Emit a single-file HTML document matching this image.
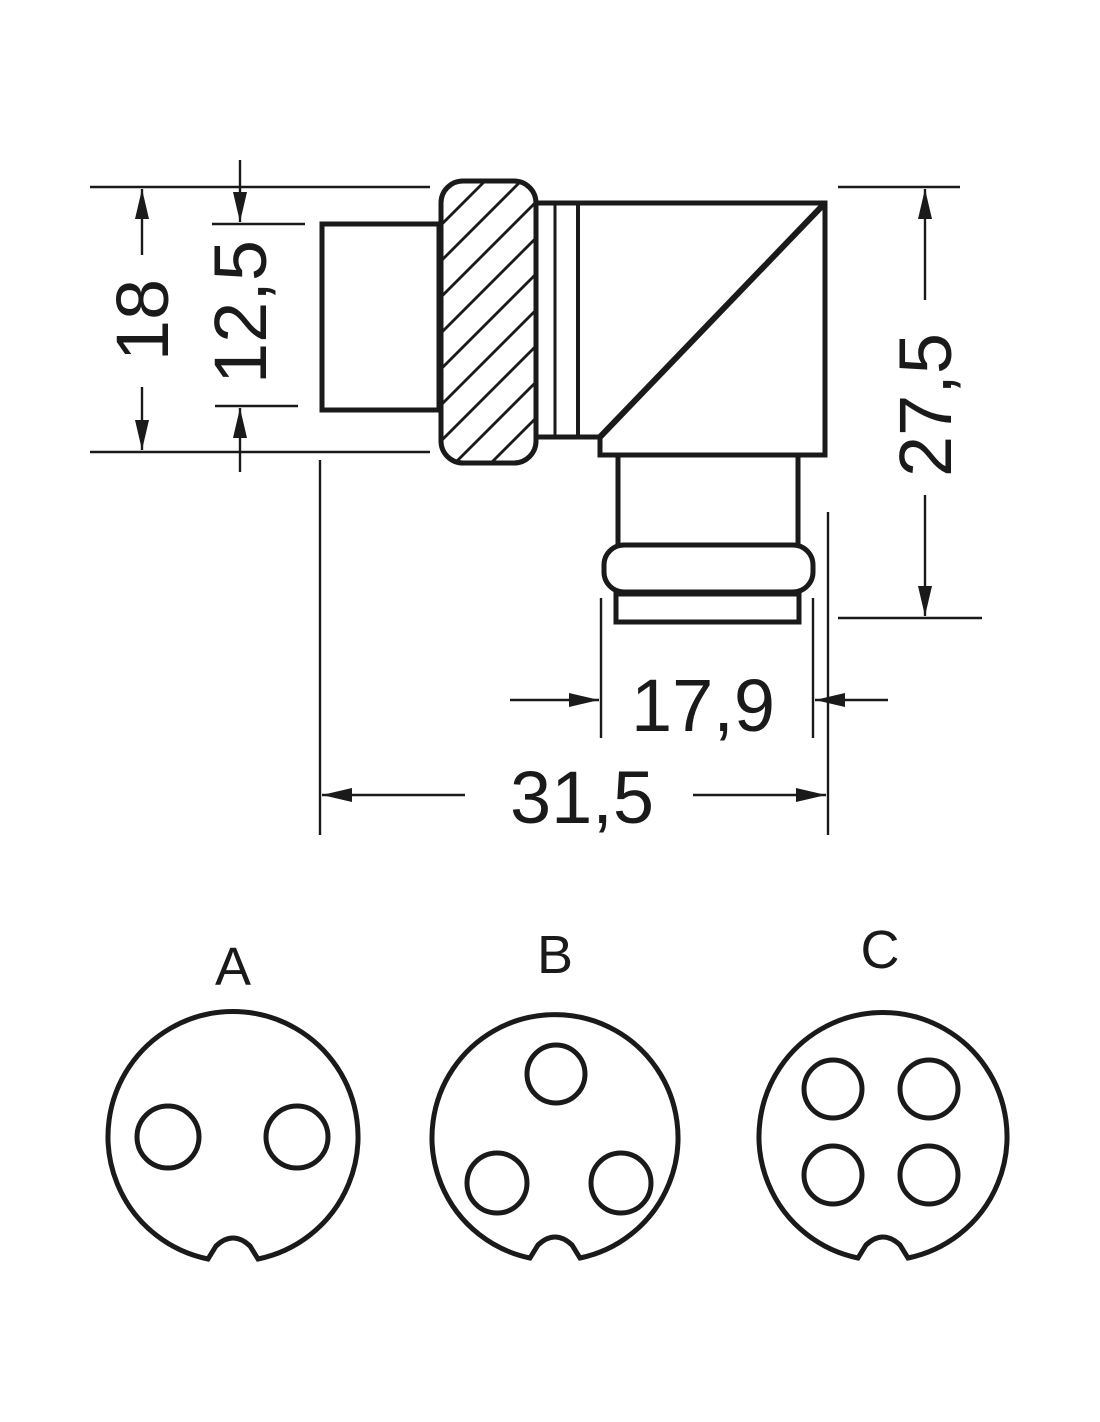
<!DOCTYPE html>
<html><head><meta charset="utf-8"><style>html,body{margin:0;padding:0;background:#fff}svg{display:block}</style></head>
<body>
<svg width="1100" height="1422" viewBox="0 0 1100 1422" xmlns="http://www.w3.org/2000/svg">
<defs>
<clipPath id="nut"><rect x="441" y="181" width="95" height="282" rx="22"/></clipPath>
<marker id="ar" viewBox="0 0 30 14" refX="30" refY="7" markerWidth="30" markerHeight="14" markerUnits="userSpaceOnUse" orient="auto"><path d="M0,0 L30,7 L0,14 Z" fill="#1a1a1a"/></marker>
</defs>
<g stroke="#1a1a1a" fill="none" stroke-width="2.4">
<line x1="90" y1="187" x2="430" y2="187"/>
<line x1="90" y1="452" x2="430" y2="452"/>
<line x1="212" y1="224" x2="305" y2="224"/>
<line x1="215" y1="406" x2="298" y2="406"/>
<line x1="838" y1="187" x2="960" y2="187"/>
<line x1="838" y1="618" x2="982" y2="618"/>
<line x1="320" y1="460" x2="320" y2="835"/>
<line x1="828" y1="512" x2="828" y2="835"/>
<line x1="601" y1="598" x2="601" y2="738"/>
<line x1="813" y1="598" x2="813" y2="738"/>
<line x1="142" y1="255" x2="142" y2="189" marker-end="url(#ar)"/>
<line x1="142" y1="387" x2="142" y2="450" marker-end="url(#ar)"/>
<line x1="240" y1="160" x2="240" y2="222" marker-end="url(#ar)"/>
<line x1="240" y1="472" x2="240" y2="408" marker-end="url(#ar)"/>
<line x1="925" y1="300" x2="925" y2="189" marker-end="url(#ar)"/>
<line x1="925" y1="495" x2="925" y2="616" marker-end="url(#ar)"/>
<line x1="510" y1="700" x2="599" y2="700" marker-end="url(#ar)"/>
<line x1="888" y1="700" x2="815" y2="700" marker-end="url(#ar)"/>
<line x1="465" y1="795" x2="322" y2="795" marker-end="url(#ar)"/>
<line x1="693" y1="795" x2="826" y2="795" marker-end="url(#ar)"/>
</g>
<g stroke="#1a1a1a" fill="none" stroke-width="5">
<rect x="322" y="224" width="117" height="186"/>
<g clip-path="url(#nut)" stroke-width="2.8">
<line x1="400" y1="230" x2="480" y2="150"/>
<line x1="400" y1="266" x2="530" y2="136"/>
<line x1="400" y1="302" x2="560" y2="142"/>
<line x1="400" y1="338" x2="560" y2="178"/>
<line x1="400" y1="374" x2="560" y2="214"/>
<line x1="400" y1="410" x2="560" y2="250"/>
<line x1="400" y1="446" x2="560" y2="286"/>
<line x1="400" y1="482" x2="560" y2="322"/>
<line x1="400" y1="518" x2="560" y2="358"/>
<line x1="420" y1="534" x2="560" y2="394"/>
<line x1="456" y1="534" x2="560" y2="430"/>
</g>
<rect x="441" y="181" width="95" height="282" rx="22"/>
<path d="M536,203 L825,203 L825,455 L600,455 L600,437 L536,437"/>
<line x1="555" y1="203" x2="555" y2="437" stroke-width="3"/>
<line x1="578" y1="203" x2="578" y2="437" stroke-width="4"/>
<line x1="825" y1="203" x2="600" y2="437" stroke-width="6"/>
<path d="M618,455 L618,545 M798,455 L798,545"/>
<rect x="604" y="545" width="209" height="47" rx="20"/>
<rect x="616" y="594" width="183" height="28"/>
</g>
<g font-family="Liberation Sans, sans-serif" font-size="74" fill="#1a1a1a" text-anchor="middle">
<text transform="translate(168,320) rotate(-90)">18</text>
<text transform="translate(266,312) rotate(-90)">12,5</text>
<text transform="translate(951,405) rotate(-90)">27,5</text>
<text x="703" y="731">17,9</text>
<text x="582" y="823">31,5</text>
</g>
<g font-family="Liberation Sans, sans-serif" font-size="54" fill="#1a1a1a" text-anchor="middle">
<text x="233" y="985">A</text>
<text x="555" y="973">B</text>
<text x="880" y="968">C</text>
</g>
<g stroke="#1a1a1a" fill="none" stroke-width="5">
<path d="M208,1259 A125,125 0 1 1 258,1259 L250,1246 Q233,1230 216,1246 Z"/>
<circle cx="168" cy="1137" r="31"/>
<circle cx="297" cy="1137" r="31"/>
<path d="M530,1258 A123,123 0 1 1 580,1258 L572,1245 Q555,1229 538,1245 Z"/>
<circle cx="556" cy="1074" r="29"/>
<circle cx="497" cy="1183" r="30"/>
<circle cx="621" cy="1183" r="30"/>
<path d="M858,1258 A124,124 0 1 1 908,1258 L900,1245 Q883,1229 866,1245 Z"/>
<circle cx="833" cy="1089" r="29"/>
<circle cx="929" cy="1089" r="29"/>
<circle cx="833" cy="1175" r="29"/>
<circle cx="929" cy="1175" r="29"/>
</g>
</svg>
</body></html>
